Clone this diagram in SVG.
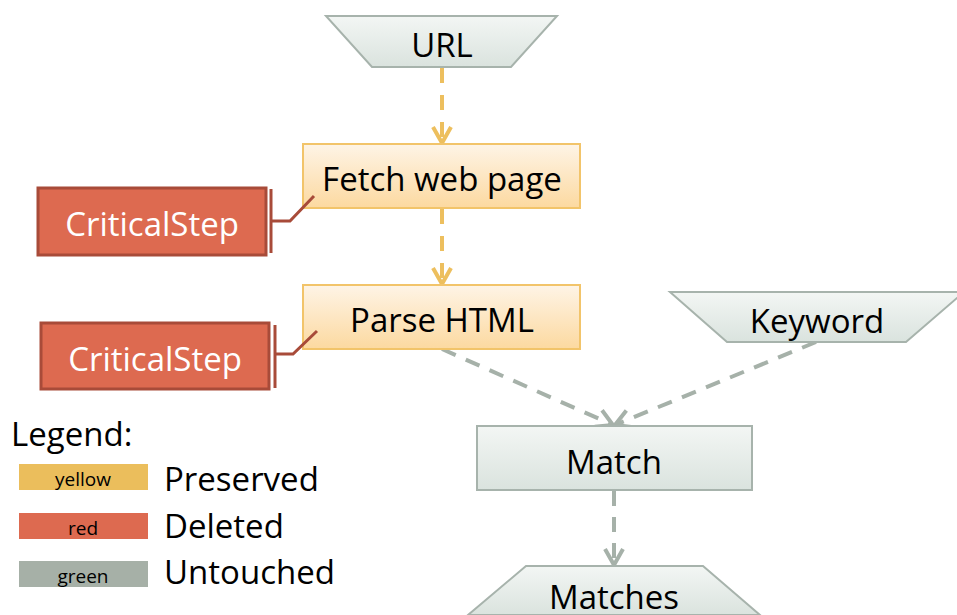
<svg xmlns="http://www.w3.org/2000/svg" width="957" height="615" viewBox="0 0 957 615">
<defs>
<linearGradient id="gGray" x1="0" y1="0" x2="0" y2="1"><stop offset="0" stop-color="#F3F6F4"/><stop offset="1" stop-color="#DAE3DE"/></linearGradient>
<linearGradient id="gYel" x1="0" y1="0" x2="0" y2="1"><stop offset="0" stop-color="#FEF4E6"/><stop offset="1" stop-color="#FCD9A0"/></linearGradient>
<marker id="aY" viewBox="-19 -11 22 22" markerWidth="22" markerHeight="22" refX="0" refY="0" orient="auto" markerUnits="userSpaceOnUse"><path d="M-16,-9 L0,0 L-16,9" fill="none" stroke="#EDBF5E" stroke-width="4"/></marker>
<marker id="aG" viewBox="-19 -11 22 22" markerWidth="22" markerHeight="22" refX="0" refY="0" orient="auto" markerUnits="userSpaceOnUse"><path d="M-16,-9 L0,0 L-16,9" fill="none" stroke="#A6B1A9" stroke-width="4"/></marker>
</defs>
<style>
text{font-family:"Open Sans","Liberation Sans",sans-serif;}
.t{font-size:33px;fill:#000;text-anchor:middle;}
.g{fill:url(#gGray);stroke:#A7B3AC;stroke-width:2;}
.y{fill:url(#gYel);stroke:#F2C46A;stroke-width:2;}
.r{fill:#DD6A50;stroke:#A84B39;stroke-width:3;}
.br{fill:none;stroke:#A84B39;stroke-width:3;}
.cs{font-size:33px;fill:#fff;text-anchor:middle;}
.ey{fill:none;stroke:#EDBF5E;stroke-width:4;stroke-dasharray:15 12;}
.eg{fill:none;stroke:#A6B1A9;stroke-width:4;stroke-dasharray:15 11;}
.lg{font-size:33px;fill:#000;}
.sw{font-size:19px;fill:#000;text-anchor:middle;}
</style>
<g id="connectors">
<line class="ey" x1="442" y1="68" x2="442" y2="143" marker-end="url(#aY)"/>
<line class="ey" x1="442" y1="209" x2="442" y2="284" marker-end="url(#aY)"/>
<line class="eg" x1="442" y1="349" x2="613" y2="425" marker-end="url(#aG)"/>
<line class="eg" x1="816" y1="342" x2="615" y2="425" marker-end="url(#aG)"/>
<line class="eg" x1="614" y1="491" x2="614" y2="565" marker-end="url(#aG)"/>
</g>
<g id="url"><polygon class="g" points="326,16 557,16 511,67 372,67"/><text class="t" x="442" y="57">URL</text></g>
<g id="fetch"><rect class="y" x="303" y="144" width="277" height="64"/><text class="t" x="442" y="191">Fetch web page</text></g>
<g id="parse"><rect class="y" x="303" y="285" width="277" height="64"/><text class="t" x="442" y="332">Parse HTML</text></g>
<g id="keyword"><polygon class="g" points="670,292 964,292 906,342 727,342"/><text class="t" x="817" y="333">Keyword</text></g>
<g id="match"><rect class="g" x="477" y="426" width="275" height="64"/><text class="t" x="614" y="474">Match</text></g>
<g id="matches"><polygon class="g" points="526,566 703,566 760,615 468,615"/><text class="t" x="614" y="609">Matches</text></g>
<g id="critical1"><rect class="r" x="38" y="188" width="228" height="67"/><polyline class="br" points="271,189 271,253"/><polyline class="br" points="271,221 290,221 314,196"/><text class="cs" x="152" y="236">CriticalStep</text></g>
<g id="critical2"><rect class="r" x="41" y="323" width="228" height="66"/><polyline class="br" points="275,325 275,388"/><polyline class="br" points="275,354 293,354 317,331"/><text class="cs" x="155" y="371">CriticalStep</text></g>
<g id="legend">
<text class="lg" x="11" y="446">Legend:</text>
<rect x="19" y="464" width="129" height="26" fill="#EBBE5C"/><text class="sw" x="83" y="486">yellow</text><text class="lg" x="164" y="491">Preserved</text>
<rect x="19" y="513" width="129" height="26" fill="#DD6A50"/><text class="sw" x="83" y="535">red</text><text class="lg" x="164" y="538">Deleted</text>
<rect x="19" y="561" width="129" height="26" fill="#A6B0A7"/><text class="sw" x="83" y="583">green</text><text class="lg" x="164" y="584">Untouched</text>
</g>
</svg>
